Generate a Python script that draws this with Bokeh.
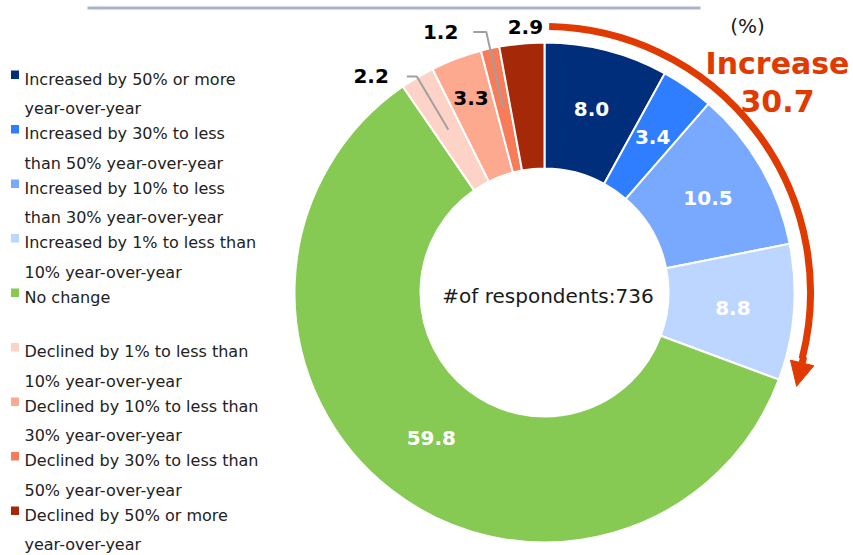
import math
from bokeh.plotting import figure
from bokeh.models import Range1d, Arrow, NormalHead
from bokeh.core.properties import value
from bokeh.embed import file_html
from bokeh.resources import INLINE

# ---------------- data ----------------
categories = [
    "Increased by 50% or more\nyear-over-year",
    "Increased by 30% to less\nthan 50% year-over-year",
    "Increased by 10% to less\nthan 30% year-over-year",
    "Increased by 1% to less than\n10% year-over-year",
    "No change",
    "Declined by 1% to less than\n10% year-over-year",
    "Declined by 10% to less than\n30% year-over-year",
    "Declined by 30% to less than\n50% year-over-year",
    "Declined by 50% or more\nyear-over-year",
]
shares = [8.0, 3.4, 10.5, 8.8, 59.8, 2.2, 3.3, 1.2, 2.9]
respondents = 736
n_increase = 4  # first four categories are increases

# ---------------- styles ----------------
colors = ["#002E7B", "#2F7EFF", "#78A9FF", "#BDD6FF", "#86C953",
          "#FDD3C8", "#FCA990", "#F87B5A", "#A52808"]
label_colors = ["white"] * 5 + ["black"] * 4
label_r = [189, 189, 189, 189, 184, None, 208, None, 266]
label_dtheta = [0, 0, 0, 0, 0, 0, 0, 0, 1.1]
leaders = {5: (251, 10, 18), 7: (267, 13, 15)}  # elbow radius, horizontal len, gap
ACCENT = "#E03A00"
FONT = value("DejaVu Sans")

W, H = 853, 555
CX, CY = 544, 292
R_IN, R_OUT = 124, 250

p = figure(width=W, height=H, x_range=Range1d(0, W), y_range=Range1d(-H, 0),
           output_backend="svg", toolbar_location=None, min_border=0,
           x_axis_type=None, y_axis_type=None)
p.grid.visible = False
p.outline_line_color = None
p.background_fill_color = "white"
p.border_fill_color = "white"

total = sum(shares)
cum = [0.0]
for s in shares:
    cum.append(cum[-1] + s)

def theta(frac):  # clockwise from top, degrees
    return 360.0 * frac

def pt(th_deg, r):
    t = math.radians(th_deg)
    return CX + r * math.sin(t), -(CY - r * math.cos(t))

start_angles = [math.pi / 2 - 2 * math.pi * cum[i + 1] / total for i in range(len(shares))]
end_angles = [math.pi / 2 - 2 * math.pi * cum[i] / total for i in range(len(shares))]

p.annular_wedge(x=CX, y=-CY, inner_radius=R_IN, outer_radius=R_OUT,
                start_angle=start_angles, end_angle=end_angles, direction="anticlock",
                fill_color=colors, line_color="white", line_width=2)

# top rule line
p.line(x=[87, 700], y=[-7.5, -7.5], line_color="#A9B5C9", line_width=3)

# data labels
for i, s in enumerate(shares):
    mid = theta((cum[i] + s / 2) / total)
    txt = f"{s:.1f}"
    if i in leaders:
        r_el, hl, gap = leaders[i]
        x0, y0 = pt(mid, 189)
        x1, y1 = pt(mid, r_el)
        x2 = x1 - hl
        p.line(x=[x0, x1, x2], y=[y0, y1, y1], line_color="#A0A0A0", line_width=2)
        p.text(x=[x2 - gap], y=[y1], text=[txt], text_font=FONT, text_font_size="20px",
               text_font_style="bold", text_color="black", text_align="right",
               text_baseline="middle")
    else:
        x, y = pt(mid + label_dtheta[i], label_r[i])
        p.text(x=[x], y=[y], text=[txt], text_font=FONT, text_font_size="20px",
               text_font_style="bold", text_color=label_colors[i], text_align="center",
               text_baseline="middle")

# centre text
p.text(x=[CX + 3.5], y=[-(CY + 3)], text=[f"#of respondents:{respondents}"], text_font=FONT,
       text_font_size="20px", text_color="#1A1A1A", text_align="center", text_baseline="middle")

# increase arrow
inc = sum(shares[:n_increase])
tip_th = theta(inc / total)
R_ARC = 266
p.arc(x=CX, y=-CY, radius=R_ARC, start_angle=math.pi / 2 - math.radians(1.0),
      end_angle=math.pi / 2 - math.radians(tip_th - 6.0), direction="clock",
      line_color=ACCENT, line_width=7)
ax0, ay0 = pt(tip_th - 6.5, R_ARC + 1)
ax1, ay1 = pt(tip_th, R_ARC + 3)
p.add_layout(Arrow(end=NormalHead(size=24, fill_color=ACCENT, line_color=ACCENT),
                   x_start=ax0, y_start=ay0, x_end=ax1, y_end=ay1,
                   line_color=ACCENT, line_width=7))

p.text(x=[747], y=[-25], text=["(%)"], text_font=FONT, text_font_size="20px",
       text_color="#1A1A1A", text_align="center", text_baseline="middle")
p.text(x=[777, 777], y=[-63, -100], text=["Increase", f"{inc:.1f}"], text_font=FONT,
       text_font_size="30px", text_font_style="bold", text_color=ACCENT,
       text_align="center", text_baseline="alphabetic")

# legend
first = [c.split("\n")[0] for c in categories]
second = [c.split("\n")[1] if "\n" in c else "" for c in categories]
base0, step, gap2 = 78.5, 54.5, 29.5
bases = [base0 + i * step for i in range(len(categories))]
p.rect(x=14.5, y=[-(b - 4.3) for b in bases], width=8, height=8.6,
       fill_color=colors, line_color=None)
p.text(x=24, y=[-b for b in bases], text=first, text_font=FONT, text_font_size="16px",
       text_color="#222222", text_baseline="alphabetic")
p.text(x=24, y=[-(b + gap2) for b in bases], text=second, text_font=FONT,
       text_font_size="16px", text_color="#222222", text_baseline="alphabetic")

open("out.html", "w").write(file_html(p, INLINE))
